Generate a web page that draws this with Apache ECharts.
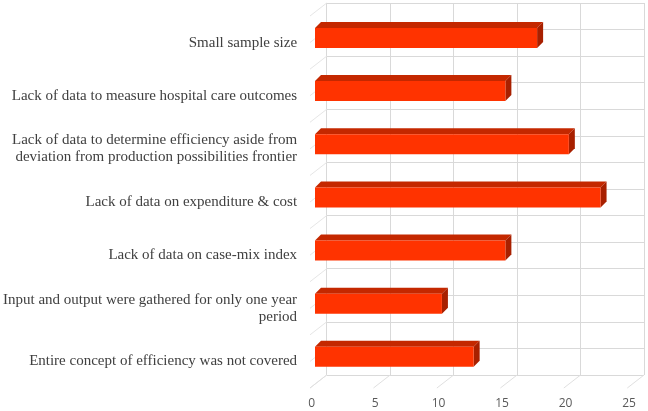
<!DOCTYPE html>
<html>
<head>
<meta charset="utf-8">
<script src="https://cdn.jsdelivr.net/npm/echarts@6/dist/echarts.min.js"></script>
<style>html,body{margin:0;padding:0;background:#fff}#c{width:648px;height:411px}</style>
</head>
<body>
<div id="c"></div>
<script>
var categories = [
  'Small sample size',
  'Lack of data to measure hospital care outcomes',
  'Lack of data to determine efficiency aside from\ndeviation from production possibilities frontier',
  'Lack of data on expenditure & cost',
  'Lack of data on case-mix index',
  'Input and output were gathered for only one year\nperiod',
  'Entire concept of efficiency was not covered'
];
var values = [17.5, 15, 20, 22.5, 15, 10, 12.5];
var xTicks = [0, 5, 10, 15, 20, 25];
var wallLines = [0,1,2,3,4,5,6,7,8,9,10,11,12,13,14];

var DX = -16.7, DY = 13;      // floor depth offset
var BX = -11.7, BY = -1.6;    // bar front offset
var BH = 20, BD = 6;          // bar height, depth
var gridColor = '#d9d9d9';

var chart = echarts.init(document.getElementById('c'), null, {renderer: 'canvas'});
chart.setOption({
  animation: false,
  backgroundColor: '#ffffff',
  grid: [
    {left: 326.7, right: 4, top: 3, bottom: 36},
    {left: 310, right: 20.7, top: 16, bottom: 23}
  ],
  xAxis: [{
    type: 'value', min: 0, max: 25, interval: 5, gridIndex: 0,
    axisLine: {show: false}, axisTick: {show: false},
    splitLine: {show: true, lineStyle: {color: gridColor, width: 1}},
    axisLabel: {color: '#595959', fontFamily: 'Open Sans', fontSize: 12, margin: 23, padding: [0, 30, 0, 0]}
  }, {
    type: 'value', min: 0, max: 25, gridIndex: 1, show: false
  }],
  yAxis: [{
    type: 'category', data: categories, inverse: true, gridIndex: 0,
    axisLine: {show: false}, axisTick: {show: false}, splitLine: {show: false}, axisLabel: {show: false}
  }, {
    type: 'value', min: 0, max: 14, interval: 1, position: 'left', gridIndex: 0,
    axisLine: {show: false}, axisTick: {show: false}, axisLabel: {show: false},
    splitLine: {show: true, lineStyle: {color: gridColor, width: 1}}
  }, {
    type: 'category', data: categories, inverse: true, gridIndex: 1,
    axisLine: {show: false}, axisTick: {show: false}, splitLine: {show: false},
    axisLabel: {color: '#404040', fontFamily: 'Liberation Serif', fontSize: 15, lineHeight: 17,
      align: 'right', margin: 14}
  }],
  series: [{
    type: 'custom', xAxisIndex: 0, yAxisIndex: 1, z: 1, silent: true,
    data: wallLines.map(function (v) { return [0, v]; }),
    renderItem: function (params, api) {
      var p = api.coord([api.value(0), api.value(1)]);
      return {type: 'line', shape: {x1: p[0], y1: p[1], x2: p[0] + DX, y2: p[1] + DY},
        style: {stroke: '#e6e6e6', lineWidth: 1}};
    }
  }, {
    type: 'custom', xAxisIndex: 0, yAxisIndex: 1, z: 1, silent: true,
    data: xTicks.map(function (v) { return [v, 0]; }),
    renderItem: function (params, api) {
      var p = api.coord([api.value(0), api.value(1)]);
      return {type: 'line', shape: {x1: p[0], y1: p[1], x2: p[0] + DX, y2: p[1] + DY},
        style: {stroke: '#e0e0e0', lineWidth: 1}};
    }
  }, {
    type: 'custom', xAxisIndex: 0, yAxisIndex: 0, z: 5,
    data: values.map(function (v, i) { return [v, i]; }),
    renderItem: function (params, api) {
      var p0 = api.coord([0, api.value(1)]);
      var p1 = api.coord([api.value(0), api.value(1)]);
      var x0 = p0[0] + BX, x1 = p1[0] + BX;
      var yt = p0[1] + BY, yb = yt + BH;
      return {type: 'group', children: [
        {type: 'polygon', shape: {points: [[x0, yt], [x1, yt], [x1 + BD, yt - BD], [x0 + BD, yt - BD]]},
          style: {fill: '#c42800'}},
        {type: 'polygon', shape: {points: [[x1, yt], [x1 + BD, yt - BD], [x1 + BD, yb - BD], [x1, yb]]},
          style: {fill: '#a82000'}},
        {type: 'rect', shape: {x: x0, y: yt, width: x1 - x0, height: BH},
          style: {fill: '#ff3300'}}
      ]};
    }
  }]
});
</script>
</body>
</html>
